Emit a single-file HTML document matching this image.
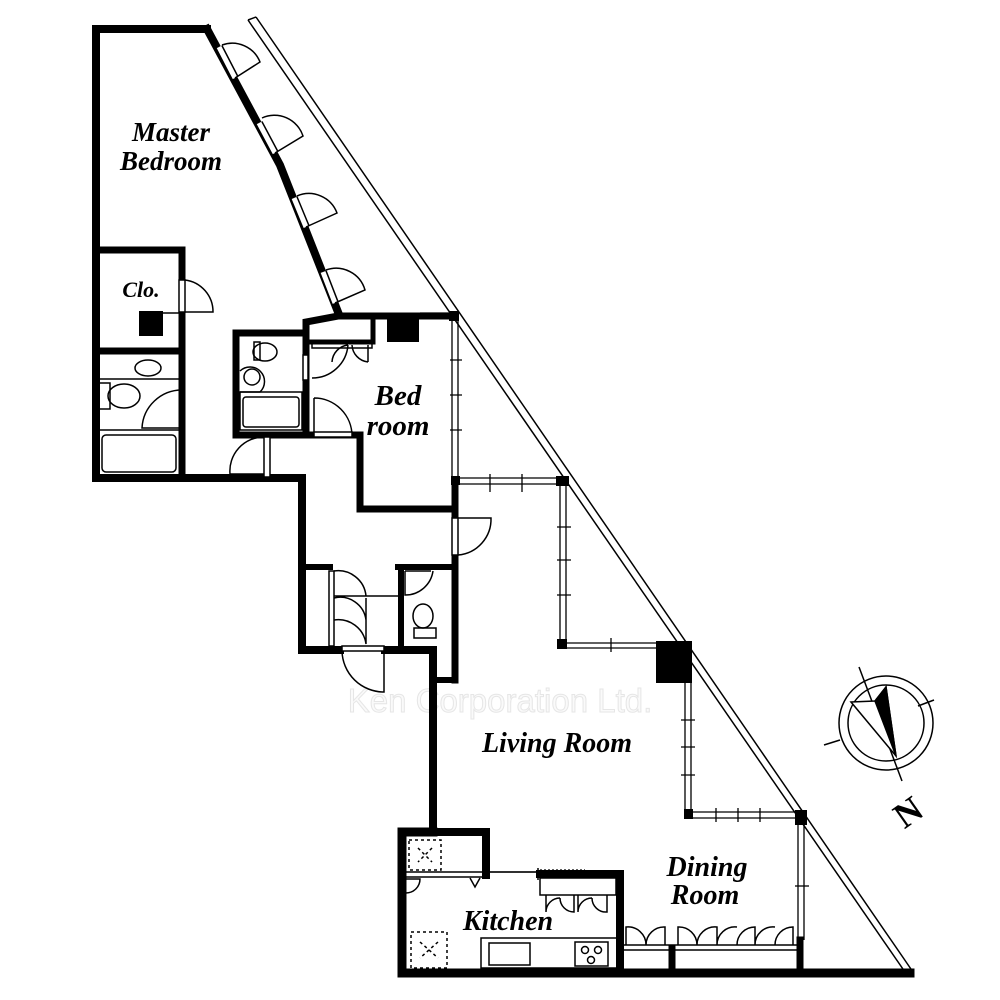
<!DOCTYPE html>
<html><head><meta charset="utf-8"><style>
html,body{margin:0;padding:0;background:#fff;}
svg{display:block}
.t{font-family:"Liberation Serif",serif;font-weight:bold;font-style:italic;fill:#000;text-anchor:middle}
</style></head><body>
<svg width="1000" height="1000" viewBox="0 0 1000 1000" xmlns="http://www.w3.org/2000/svg">
<rect width="1000" height="1000" fill="#fff"/>
<!-- watermark -->
<text x="500" y="712" font-family="Liberation Sans,sans-serif" font-size="33" fill="#fafafa" stroke="#e6e6e6" stroke-width="1" text-anchor="middle">Ken Corporation Ltd.</text>
<!-- balcony rail -->
<line x1="248" y1="20" x2="905" y2="972" stroke="#000" stroke-width="1.5"/>
<line x1="256" y1="17" x2="913" y2="972" stroke="#000" stroke-width="1.5"/>
<line x1="248" y1="20" x2="256" y2="17" stroke="#000" stroke-width="1.5"/>

<g fill="none" stroke="#000" stroke-linejoin="miter" stroke-linecap="square">
<polyline points="207,29 96,29 96,478 302,478 302,650 340,650" stroke-width="8"/>
<polyline points="385,650 433,650 433,830" stroke-width="8"/>
<polyline points="207,29 280,165 338,312" stroke-width="8"/>
<polyline points="96,250 182,250 182,280" stroke-width="7"/>
<line x1="182" y1="312" x2="182" y2="478" stroke-width="7"/>
<line x1="96" y1="351" x2="182" y2="351" stroke-width="7"/>
<polyline points="305,333 236,333 236,435 360,435" stroke-width="7"/>
<polyline points="306,435 306,322 338,316 455,316" stroke-width="7"/>
<polyline points="360,435 360,509 455,509 455,518" stroke-width="7"/>
<line x1="455" y1="480" x2="455" y2="509" stroke-width="7"/>
<polyline points="373,318 373,342 305,342" stroke-width="5"/>
<line x1="455" y1="555" x2="455" y2="680" stroke-width="7"/>
<polyline points="302,567 330,567" stroke-width="6"/>
<polyline points="398,567 455,567" stroke-width="6"/>
<line x1="401" y1="567" x2="401" y2="650" stroke-width="6"/>
<polyline points="455,680 435,680" stroke-width="6"/>
<polyline points="433,832 486,832 486,875" stroke-width="8"/>
<polyline points="433,832 402,832 402,973 910,973" stroke-width="9"/>
<polyline points="540,874 620,874 620,973" stroke-width="8"/>
<line x1="672" y1="948" x2="672" y2="973" stroke-width="7"/>
<line x1="800" y1="940" x2="800" y2="973" stroke-width="7"/>
</g>
<g stroke-linecap="butt">
<line x1="219" y1="47" x2="235" y2="78" stroke="#000" stroke-width="8"/>
<line x1="219" y1="47" x2="235" y2="78" stroke="#fff" stroke-width="5"/>
<line x1="259" y1="123" x2="275" y2="153" stroke="#000" stroke-width="8"/>
<line x1="259" y1="123" x2="275" y2="153" stroke="#fff" stroke-width="5"/>
<line x1="294" y1="198" x2="306" y2="227" stroke="#000" stroke-width="8"/>
<line x1="294" y1="198" x2="306" y2="227" stroke="#fff" stroke-width="5"/>
<line x1="323" y1="272" x2="335" y2="303" stroke="#000" stroke-width="8"/>
<line x1="323" y1="272" x2="335" y2="303" stroke="#fff" stroke-width="5"/>
</g>
<g fill="none" stroke="#000" stroke-width="1.5">
<path d="M235,78 L260,62 A30,30 0 0 0 222,45"/>
<path d="M275,153 L303,136 A30,30 0 0 0 262,118"/>
<path d="M306,227 L337,213 A30,30 0 0 0 297,196"/>
<path d="M335,303 L365,290 A30,30 0 0 0 326,270"/>
<rect x="179" y="280" width="6" height="32" fill="#fff"/>
<path d="M185,280 A32,32 0 0 1 213,312 L185,312"/>
<line x1="142" y1="313" x2="182" y2="313"/>
<ellipse cx="148" cy="368" rx="13" ry="8"/>
<line x1="98" y1="379" x2="182" y2="379"/>
<rect x="99" y="383" width="11" height="26"/>
<ellipse cx="124" cy="396" rx="16" ry="12"/>
<path d="M182,390 A40,40 0 0 0 142,428 L182,428"/>
<line x1="98" y1="430" x2="182" y2="430"/>
<rect x="102" y="435" width="74" height="37" rx="4"/>
<rect x="254" y="342" width="6" height="18"/>
<ellipse cx="265" cy="352" rx="12" ry="9"/>
<circle cx="252" cy="377" r="8"/>
<path d="M240,371 A14,14 0 0 1 260,392 L240,392"/>
<rect x="240" y="392" width="62" height="38"/>
<rect x="243" y="397" width="56" height="30" rx="3"/>
<rect x="264" y="437" width="6" height="40" fill="#fff"/>
<path d="M264,437 A34,34 0 0 0 230,474 L264,474"/>
<rect x="312" y="342" width="60" height="6"/>
<path d="M312,378 A36,36 0 0 0 348,345 M348,345 A18,18 0 0 0 332,362 M352,345 A18,18 0 0 0 368,362 M368,345 L368,362"/>
<rect x="303" y="355" width="5" height="25" fill="#fff"/>
<path d="M314,398 A38,38 0 0 1 352,436 L314,436 L314,398"/>
<rect x="314" y="432" width="38" height="5" fill="#fff"/>
<rect x="452" y="518" width="6" height="37" fill="#fff"/>
<path d="M458,518 L491,518 A36,36 0 0 1 458,555"/>
<rect x="329" y="571" width="5" height="75"/>
<path d="M334,571 A28,28 0 0 1 366,596 M334,596 L400,596 M334,598 A26,26 0 0 1 366,620 M334,620 A28,28 0 0 1 366,644 L366,598"/>
<path d="M405,571 L431,571 M433,571 A28,28 0 0 1 405,595 L405,571"/>
<ellipse cx="423" cy="616" rx="10" ry="12"/>
<rect x="414" y="628" width="22" height="10"/>
<rect x="342" y="646" width="42" height="5" fill="#fff"/>
<path d="M342,651 A42,42 0 0 0 384,692 L384,651"/>
<rect x="409" y="840" width="32" height="30" stroke-dasharray="3,3"/>
<line x1="418" y1="848" x2="432" y2="862" stroke-dasharray="3,3"/>
<line x1="432" y1="848" x2="418" y2="862" stroke-dasharray="3,3"/>
<line x1="406" y1="872" x2="540" y2="872"/>
<line x1="406" y1="877" x2="486" y2="877"/>
<path d="M406,893 A14,14 0 0 0 420,879 L406,879"/>
<path d="M470,878 L475,887 L480,878"/>
<line x1="538" y1="868" x2="538" y2="880"/>
<rect x="540" y="878" width="76" height="17"/>
<path d="M546,895 L546,912 A14,14 0 0 1 560,898 M560,898 A14,14 0 0 0 574,912 L574,895 M578,895 L578,912 A14,14 0 0 1 592,898 M592,898 A14,14 0 0 0 607,912 L607,895"/>
<rect x="411" y="932" width="36" height="36" stroke-dasharray="3,3"/>
<line x1="420" y1="942" x2="438" y2="958" stroke-dasharray="3,3"/>
<line x1="438" y1="942" x2="420" y2="958" stroke-dasharray="3,3"/>
<rect x="481" y="938" width="136" height="30"/>
<rect x="489" y="943" width="41" height="22"/>
<rect x="575" y="942" width="33" height="24"/>
<circle cx="585" cy="950" r="3.5"/><circle cx="598" cy="950" r="3.5"/><circle cx="591" cy="960" r="3.5"/>
<line x1="624" y1="945" x2="797" y2="945"/>
<line x1="624" y1="950" x2="797" y2="950"/>
<path d="M626,945 L626,927 A18,18 0 0 1 646,945 M646,945 A18,18 0 0 1 665,927 L665,945"/>
<path d="M678,945 L678,927 A18,18 0 0 1 697,945 M697,945 A18,18 0 0 1 717,927 L717,945 A18,18 0 0 1 737,927 M737,945 A18,18 0 0 1 755,927 L755,945 A18,18 0 0 1 775,927 M775,945 A18,18 0 0 1 793,927 L793,945"/>
</g>
<g fill="none" stroke="#000" stroke-width="1.3">
<path d="M452,319 L452,478 M458,319 L458,478"/>
<path d="M420,313 L452,313 M420,318 L452,318"/>
<path d="M457,478 L563,478 M457,484 L560,484"/>
<path d="M560,484 L560,643 M566,484 L566,643"/>
<path d="M566,643 L657,643 M566,648 L657,648"/>
<path d="M685,682 L685,812 M691,682 L691,812"/>
<path d="M691,812 L797,812 M691,818 L797,818"/>
<path d="M798,825 L798,940 M804,825 L804,940"/>
<path d="M490,872 L538,872"/>
<path d="M540,870 L585,870" stroke-dasharray="2,2"/>
<path d="M450,360 L462,360 M450,395 L462,395 M450,430 L462,430"/>
<path d="M490,474 L490,492 M522,474 L522,492"/>
<path d="M557,527 L571,527 M557,560 L571,560 M557,595 L571,595"/>
<path d="M611,638 L611,652"/>
<path d="M681,720 L695,720 M681,747 L695,747 M681,775 L695,775"/>
<path d="M716,808 L716,822 M738,808 L738,822 M760,808 L760,822"/>
<path d="M795,886 L809,886"/>
</g>
<g fill="#000">
<rect x="139" y="311" width="24" height="25"/>
<rect x="387" y="318" width="32" height="24"/>
<rect x="449" y="311" width="10" height="10"/>
<rect x="451" y="476" width="9" height="9"/>
<rect x="556" y="476" width="13" height="10"/>
<rect x="557" y="639" width="10" height="10"/>
<rect x="656" y="641" width="36" height="42"/>
<rect x="684" y="809" width="9" height="10"/>
<rect x="795" y="810" width="12" height="15"/>
</g>
<g fill="none" stroke="#000" stroke-width="1.5">
<circle cx="886" cy="723" r="47"/>
<circle cx="886" cy="723" r="38"/>
<line x1="859" y1="667" x2="902" y2="781"/>
<line x1="824" y1="745" x2="840" y2="740"/>
<line x1="934" y1="700" x2="918" y2="706"/>
<path d="M851,702 L875,701 L886,687 L896,756 Z" fill="#fff"/>
<path d="M875,701 L886,687 L896,756 Z" fill="#000"/>
</g>
<text x="915" y="822" font-family="Liberation Serif,serif" font-size="36" font-weight="bold" text-anchor="middle" transform="rotate(-35 915 822)">N</text>
<text x="171" y="141" class="t" font-size="27">Master</text>
<text x="171" y="170" class="t" font-size="27">Bedroom</text>
<text x="141" y="297" class="t" font-size="22">Clo.</text>
<text x="398" y="405" class="t" font-size="29">Bed</text>
<text x="398" y="435" class="t" font-size="29">room</text>
<text x="557" y="752" class="t" font-size="28">Living Room</text>
<text x="707" y="876" class="t" font-size="28">Dining</text>
<text x="705" y="904" class="t" font-size="28">Room</text>
<text x="508" y="930" class="t" font-size="28">Kitchen</text>
</svg>
</body></html>
